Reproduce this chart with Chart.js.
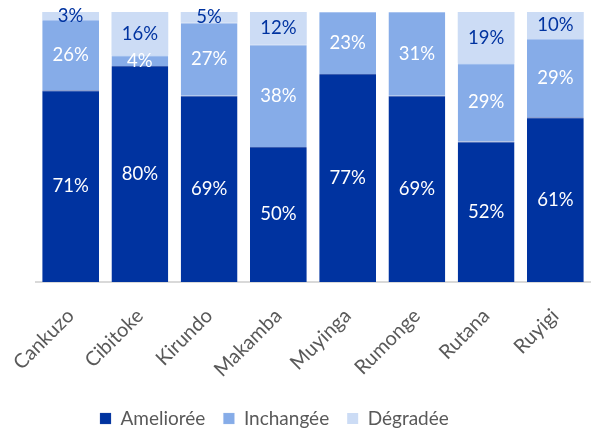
<!DOCTYPE html>
<html><head><meta charset="utf-8">
<script src="https://cdn.jsdelivr.net/npm/chart.js@4"></script>
<style>html,body{margin:0;padding:0;background:#fff}#w{width:596px;height:430px}</style>
</head><body><div id="w"><canvas id="c"></canvas></div>
<script>
const categories = ["Cankuzo","Cibitoke","Kirundo","Makamba","Muyinga","Rumonge","Rutana","Ruyigi"];
const ameliore = [71,80,69,50,77,69,52,61];
const inchange = [26,4,27,38,23,31,29,29];
const degrade = [3,16,5,12,0,0,19,10];
const seriesNames = ["Ameliorée","Inchangée","Dégradée"];

const FONT = "'Lato', 'Open Sans', sans-serif";
const labelPlugin = {
  id: 'segLabels',
  beforeDraw(chart) {
    const lg = chart.legend;
    if (lg) { lg.left = 82; lg.top = 391; lg.bottom = 430; lg.height = 39; }
  },
  afterDatasetsDraw(chart) {
    const ctx = chart.ctx;
    const area = chart.chartArea;
    ctx.save();
    ctx.font = "18.5px " + FONT;
    ctx.textAlign = 'center';
    ctx.textBaseline = 'middle';
    chart.data.datasets.forEach((ds, di) => {
      const meta = chart.getDatasetMeta(di);
      meta.data.forEach((bar, i) => {
        const v = ds.data[i];
        if (!v) return;
        const top = Math.max(bar.y, area.top);
        const bottom = bar.base;
        const y = (top + bottom) / 2;
        ctx.fillStyle = ds.labelColor;
        ctx.fillText(v + '%', bar.x, y);
      });
    });
    ctx.restore();
  }
};

new Chart(document.getElementById('c'), {
  type: 'bar',
  data: {
    labels: categories,
    datasets: [
      {label: seriesNames[0], data: ameliore, backgroundColor: '#0033A0', borderColor:'#3A5DB0', borderWidth:{top:1}, labelColor:'#ffffff'},
      {label: seriesNames[1], data: inchange, backgroundColor: '#86ACE8', borderColor:'#A9C4F0', borderWidth:{top:1}, labelColor:'#ffffff'},
      {label: seriesNames[2], data: degrade, backgroundColor: '#CCDCF5', borderColor:'#CCDCF5', borderWidth:0, labelColor:'#0033A0'}
    ]
  },
  options: {
    responsive: true,
    maintainAspectRatio: false,
    animation: false,
    layout: {padding: {left: 36, right: 6, top: 12, bottom: 0}},
    datasets: {bar: {categoryPercentage: 0.82, barPercentage: 1.0}},
    scales: {
      x: {
        stacked: true,
        grid: {display: false, drawTicks: false},
        border: {display: true, color: '#D9D9D9', width: 2},
        ticks: {color: '#595959', font: {family: FONT, size: 20}, maxRotation: 45, minRotation: 45, padding: 22},
        afterFit(axis) {
          const lh = axis.chart.legend ? axis.chart.legend.height : 0;
          axis.height = 148 - lh;
          axis.paddingLeft = 0;
          axis.paddingRight = 0;
        }
      },
      y: {
        stacked: true, min: 0, max: 100, display: false
      }
    },
    plugins: {
      legend: {
        position: 'bottom',
        align: 'start',
        labels: {color: '#595959', font: {family: FONT, size: 19}, boxWidth: 11, boxHeight: 11, padding: 18, useBorderRadius:false}
      },
      tooltip: {enabled: false}
    }
  },
  plugins: [labelPlugin]
});
</script></body></html>
